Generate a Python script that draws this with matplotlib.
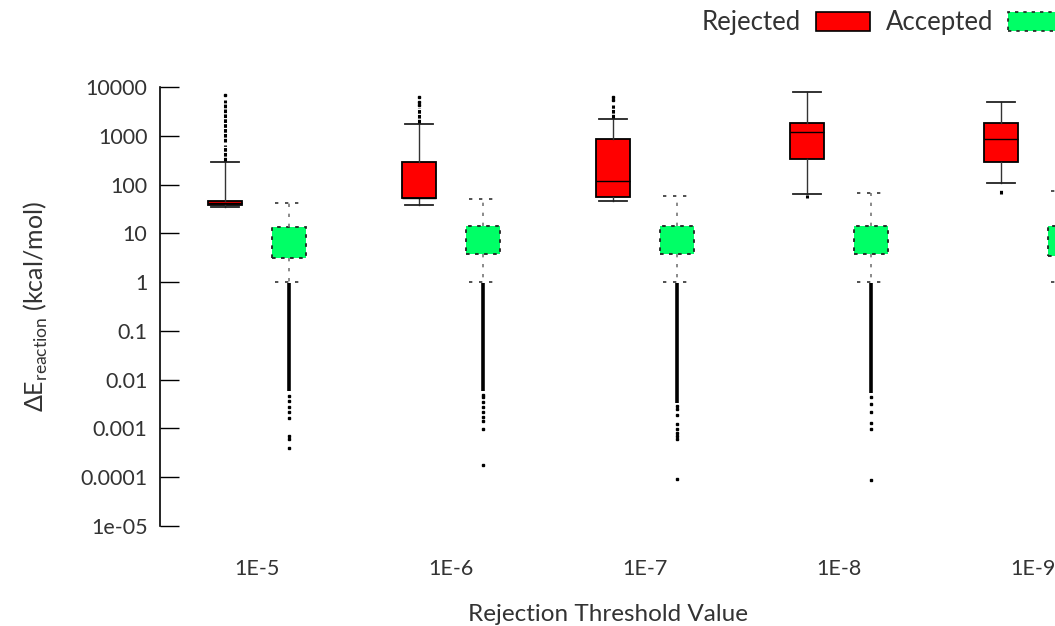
import numpy as np
import matplotlib
matplotlib.use("Agg")
import matplotlib.pyplot as plt
from matplotlib.patches import Patch

plt.rcParams['font.family'] = ['Lato', 'DejaVu Sans']
plt.rcParams['mathtext.fontset'] = 'custom'
plt.rcParams['mathtext.rm'] = 'Lato'

thresholds = ["1E-5", "1E-6", "1E-7", "1E-8", "1E-9"]

# rejected: five-number summaries (whislo, q1, med, q3, whishi)
rej_whislo = [34, 38, 47, 63, 108]
rej_q1 = [38, 52, 56, 330, 290]
rej_med = [41, 54, 118, 1210, 850]
rej_q3 = [46, 295, 860, 1860, 1800]
rej_whishi = [295, 1740, 2200, 8000, 4850]
# dense outlier runs (low, high) and isolated outliers
rej_runs = [[(310, 650), (760, 5400)], [(1800, 3700)], [(2300, 4270)], [(53, 60)], [(63, 78)]]
rej_pts = [[6850], [4270, 5000, 6300], [5400, 6300], [], []]

# accepted
acc_whislo = [1.0, 1.0, 1.0, 1.0, 1.0]
acc_q1 = [3.1, 3.7, 3.7, 3.7, 3.5]
acc_med = [6.5, 7.0, 7.0, 7.0, 7.0]
acc_q3 = [13.5, 14.4, 14.4, 14.4, 14.4]
acc_whishi = [42, 50, 58, 66, 74]
acc_runs = [[(0.0058, 0.97)], [(0.0058, 0.97)], [(0.0033, 0.97)], [(0.0053, 0.97)], [(0.005, 0.97)]]
acc_pts = [
    [0.0045, 0.0036, 0.0028, 0.0022, 0.0016, 0.00068, 0.0006, 0.0004],
    [0.0049, 0.0043, 0.0034, 0.0027, 0.0022, 0.0017, 0.0014, 0.00099, 0.00018],
    [0.0029, 0.0025, 0.0019, 0.0012, 0.00099, 0.00081, 0.00068, 0.0006, 0.0000906],
    [0.0043, 0.0031, 0.0022, 0.0013, 0.00099, 0.0000888],
    [],
]

x = np.arange(len(thresholds))
off = 0.165
w = 0.175
txt = '#333333'

fig = plt.figure(figsize=(10.55, 6.26), dpi=100)
ax = fig.add_axes([0.1517, 0.16, 0.8483, 0.701])

def stats(lo, q1, med, q3, hi):
    return [dict(whislo=a, q1=b, med=c, q3=d, whishi=e, fliers=[])
            for a, b, c, d, e in zip(lo, q1, med, q3, hi)]

ax.bxp(stats(rej_whislo, rej_q1, rej_med, rej_q3, rej_whishi), positions=x - off,
       widths=w, capwidths=w * 0.82, patch_artist=True, showfliers=False,
       boxprops=dict(facecolor='#ff0000', edgecolor='black', linewidth=1.3),
       medianprops=dict(color='black', linewidth=1.0),
       whiskerprops=dict(color='#333333', linewidth=1.0),
       capprops=dict(color='#222222', linewidth=1.3))

ax.bxp(stats(acc_whislo, acc_q1, acc_med, acc_q3, acc_whishi), positions=x + off,
       widths=w, capwidths=w * 0.82, patch_artist=True, showfliers=False,
       boxprops=dict(facecolor='#00ff66', edgecolor='#222222', linewidth=1.3, linestyle=(0, (2, 3))),
       medianprops=dict(color='#00ff66', linewidth=0),
       whiskerprops=dict(color='#777777', linewidth=1.2, linestyle=(0, (2, 4))),
       capprops=dict(color='#333333', linewidth=1.2, linestyle=(0, (2, 4))))

for i in range(len(thresholds)):
    for lo, hi in rej_runs[i]:
        ax.vlines(x[i] - off, lo, hi, color='black', linewidth=2.2, linestyle=(0, (1.2, 0.4)))
    if rej_pts[i]:
        ax.plot([x[i] - off] * len(rej_pts[i]), rej_pts[i], 's', color='black', markersize=1.6, linestyle='none')
    for lo, hi in acc_runs[i]:
        ax.vlines(x[i] + off, lo, hi, color='black', linewidth=2.6)
    if acc_pts[i]:
        ax.plot([x[i] + off] * len(acc_pts[i]), acc_pts[i], 's', color='black', markersize=1.6, linestyle='none')

ax.set_yscale('log')
ax.set_ylim(1e-5, 1e4)
ax.set_xlim(-0.5, 4.113)
ax.set_yticks([10.0 ** k for k in range(-5, 5)])
ax.set_yticklabels(["1e-05", "0.0001", "0.001", "0.01", "0.1", "1", "10", "100", "1000", "10000"])
ax.set_xticks(x)
ax.set_xticklabels(thresholds)
for s in ['top', 'right', 'bottom']:
    ax.spines[s].set_visible(False)
ax.spines['left'].set_linewidth(1.2)
ax.tick_params(axis='y', which='major', direction='in', length=14, width=1.0, labelsize=15.5, pad=9, colors='black', labelcolor=txt)
ax.tick_params(axis='y', which='minor', direction='in', length=7, width=0.8, colors='black')
ax.tick_params(axis='x', length=0, labelsize=15.5, pad=24, labelcolor=txt)

ax.set_xlabel("Rejection Threshold Value", fontsize=17.5, color=txt, labelpad=18)
ax.set_ylabel(r"$\Delta$E$_{\rm reaction}$ (kcal/mol)", fontsize=18, color=txt, labelpad=22)

handles = [Patch(facecolor='#ff0000', edgecolor='black', linewidth=1.2),
           Patch(facecolor='#00ff66', edgecolor='#222222', linewidth=1.2, linestyle=(0, (2, 3)))]
leg = fig.legend(handles, ["Rejected", "Accepted"], loc='upper right', bbox_to_anchor=(1.024, 1.012),
                 ncol=2, frameon=False, markerfirst=False, fontsize=18.5, handlelength=2.1,
                 handleheight=0.75, columnspacing=0.6, handletextpad=0.6, borderaxespad=0.3)
for t in leg.get_texts():
    t.set_color(txt)

fig.savefig("out.png", dpi=100)
